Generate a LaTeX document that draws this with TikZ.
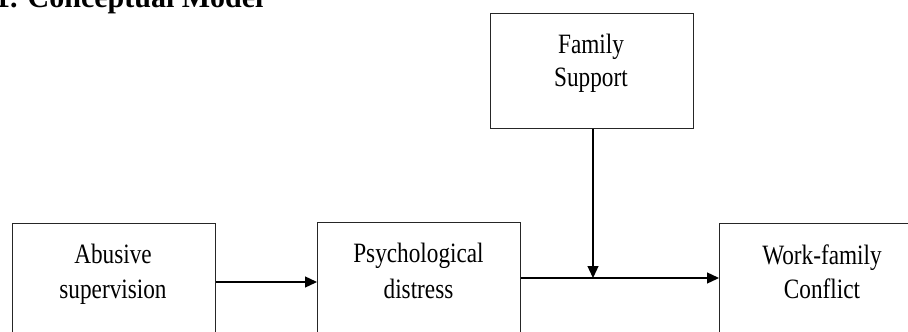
\documentclass[tikz,border=0pt]{standalone}
\usepackage{fontspec}
\setmainfont{Liberation Serif}
\newfontfamily\boxfont[FakeStretch=0.83]{Liberation Serif}
\usetikzlibrary{arrows.meta}
\begin{document}
\begin{tikzpicture}[x=1pt,y=-1pt,
  box/.style={draw=black!85,line width=1.4pt,minimum width=203pt,minimum height=177pt,anchor=north west,inner sep=0pt},
  fbox/.style={draw=black!85,line width=1.4pt,minimum width=203pt,minimum height=115pt,anchor=north west,inner sep=0pt},
  lbl/.style={font=\boxfont\fontsize{28}{34}\selectfont,anchor=base,inner sep=0pt},
  arr/.style={line width=1.3pt,-{Triangle[length=12pt,width=11pt]}}]
\useasboundingbox (0,0) rectangle (908,332);
\clip (0,0) rectangle (908,332);
\node[font=\bfseries\fontsize{30}{36}\selectfont,anchor=base west,inner sep=0pt] (title) at (-5,8) {1. Conceptual Model};
\node[fbox] (fam) at (490,13) {};
\node[box] (abu) at (12,223) {};
\node[box] (psy) at (317,222) {};
\node[box] (wfc) at (719,223) {};
\node[lbl] (fam1) at (591,53) {Family};
\node[lbl] (fam2) at (591,86) {Support};
\node[lbl] (abu1) at (113,263) {Abusive};
\node[lbl] (abu2) at (113,298) {supervision};
\node[lbl] (psy1) at (418.5,262) {Psychological};
\node[lbl] (psy2) at (418.5,298) {distress};
\node[lbl] (wfc1) at (822,264) {Work-family};
\node[lbl] (wfc2) at (822,298) {Conflict};
\coordinate (a1) at ([yshift=-59pt]abu.north east);
\coordinate (a2) at ([yshift=-56pt]psy.north east);
\coordinate (fs) at ([xshift=103pt]fam.south west);
\draw[arr] (a1) -- (a1 -| psy.west);
\draw[arr] (a2) -- (a2 -| wfc.west);
\draw[arr] (fs) -- (fs |- a2);
\end{tikzpicture}
\end{document}
